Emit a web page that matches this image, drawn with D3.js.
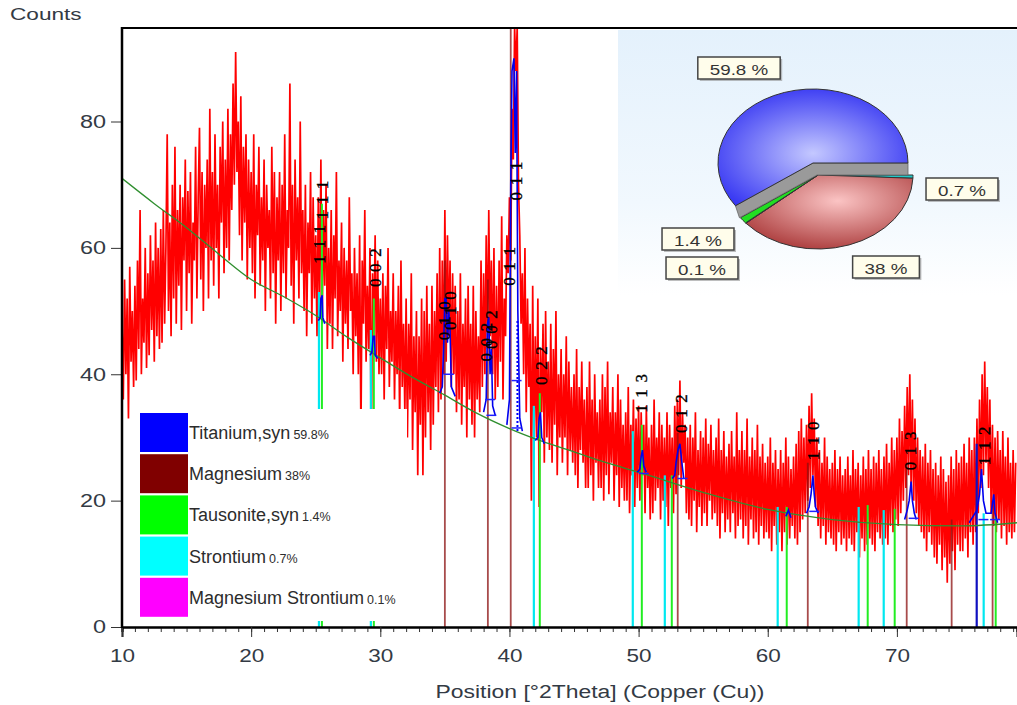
<!DOCTYPE html>
<html><head><meta charset="utf-8">
<script src="https://cdn.jsdelivr.net/npm/d3@7"></script>
<style>body{margin:0;background:#fff;} text{font-family:Arial,"Liberation Sans",sans-serif;}</style>
</head><body><svg id="c" width="1017" height="705"></svg>
<script>
// ---------- DATA ----------
const xStart = 10.0, xStep = 0.1;
const counts = [
48,36,55,40,52,33,57,42,50,38,
54,39,58,44,66,40,52,45,60,41,
56,43,62,47,58,42,64,46,60,44,
63,45,66,48,60,78,50,64,46,70,
52,76,48,66,54,70,47,68,58,74,
50,69,56,72,48,64,58,76,52,68,
79,55,72,50,70,60,74,52,82,58,
72,54,78,60,70,52,76,64,80,56,
74,60,82,58,78,66,86,70,91,72,
80,62,84,58,76,64,78,55,74,60,
72,56,78,52,70,62,76,54,68,58,
74,50,70,60,66,52,76,56,72,48,
68,58,72,50,70,56,78,52,66,60,
86,54,70,48,74,58,68,52,80,56,
66,50,70,46,64,56,72,48,68,52,
62,46,68,50,74,48,66,54,70,44,
60,48,66,44,62,52,72,46,58,50,
64,42,60,48,58,44,68,50,56,40,
60,46,56,40,62,30,58,48,66,42,
54,44,60,26,56,46,62,42,58,40,
52,40,56,36,54,44,60,38,50,42,
56,36,50,40,54,32,58,38,48,34,
52,30,48,36,56,28,46,34,50,24,
46,32,52,24,50,30,54,34,48,28,
54,32,50,38,56,34,60,36,58,40,
66,42,62,46,58,38,56,40,54,34,
50,36,56,32,48,38,52,30,54,36,
48,32,54,30,50,36,46,34,58,38,
56,40,62,44,66,46,58,40,60,36,
54,38,58,42,65,36,52,46,62,56,
68,58,82,74,95,88,95,70,62,48,
56,40,60,34,52,38,48,20,54,28,
46,30,52,19,44,34,48,26,50,30,
42,28,48,26,44,32,50,24,40,30,
44,26,40,30,46,24,42,28,38,26,
40,24,44,22,38,28,42,26,36,22,
38,22,42,24,36,20,40,26,34,22,
36,22,40,20,38,24,42,21,34,26,
38,20,34,24,40,19,36,22,32,20,
34,20,38,18,32,24,36,19,33,22,
35,20,34,24,32,18,35,22,30,17,
32,18,36,20,30,22,34,17,32,20,
30,19,34,16,32,22,30,18,35,21,
36,24,39,22,34,26,32,18,30,17,
32,16,30,20,34,15,28,19,31,16,
30,18,33,16,29,20,32,17,28,18,
30,16,33,14,28,18,31,15,27,17,
29,15,31,18,27,14,34,16,28,17,
31,14,28,16,33,13,27,17,30,14,
28,15,32,13,27,16,29,14,26,15,
27,14,30,12,26,16,28,13,25,15,
28,12,26,15,30,13,27,14,25,16,
27,14,29,13,31,15,33,17,30,18,
32,20,35,22,37,24,33,19,30,16,
28,14,26,16,30,13,27,15,25,14,
26,13,28,12,25,15,27,13,24,14,
25,12,27,14,24,13,28,12,25,15,
26,11,24,14,27,12,25,13,28,14,
25,13,27,12,26,15,28,14,25,13,
27,14,29,13,26,16,30,15,28,17,
30,16,33,18,31,20,35,22,38,24,
40,22,36,20,33,18,30,16,28,15,
27,14,29,12,26,15,28,13,25,11,
26,10,24,13,27,9,25,11,23,7,
24,10,27,12,25,9,28,13,26,12,
27,12,29,14,26,11,30,15,28,13,
30,15,33,18,36,22,40,24,42,26,
38,22,36,18,32,16,30,15,31,17,
28,14,31,16,27,13,30,15,26,14,
28,15,26
];

const bgPos    = [10,12.5,15,17.5,20,22.5,25,27.5,30,32.5,35,37.5,40,42.5,45,47.5,50,55,60,65,70,75,79.3];
const bgCounts = [71,67,63.2,59,55,52.3,49.3,45.8,42.6,39.5,36.7,33.8,31.4,29.4,27.7,26,24.5,21.3,18.6,17,16.2,16,16.5];

// reference stick patterns
const srPos  = [25.25,29.27,41.89,49.55,52.03,60.77,67.04,68.98,76.72];
const srH    = [53,47,35,31,24,19,19,18.5,18];
const tauPos = [25.48,29.50,42.35,50.25,52.57,61.47,67.74,69.83,77.65];
const tauH   = [67,52,37,32,24,19,19.3,18.7,17.5];
const mgPos  = [35.0,38.33,40.1,53.03,63.1,70.76,74.24,77.41];
const mgH    = [58,55,95,30.7,26,26,17,20];
const tiPos  = [76.18];
const tiH    = [29];

// calculated Titanium profile pieces [2theta, counts]
const tiProfile = [
 [[25.2,48.5],[25.35,49],[25.4,52],[25.5,52.5],[25.55,49],[25.7,48]],
 [[29.2,43],[29.35,43.5],[29.45,46],[29.55,46],[29.6,43],[29.8,42.5]],
 [[34.6,37],[34.8,38],[34.9,44],[35.0,52],[35.1,52],[35.2,45],[35.3,50],[35.4,47],[35.5,38],[35.8,36.5]],
 [[38.0,34],[38.2,36],[38.3,48],[38.4,49],[38.5,40],[38.6,44],[38.7,35],[38.9,33.5]],
 [[39.8,32],[40.0,36],[40.1,70],[40.2,88],[40.35,90],[40.45,75],[40.55,88],[40.65,50],[40.8,33],[41.0,31]],
 [[42.0,29.5],[42.2,30],[42.3,33],[42.4,34],[42.5,30],[42.7,29]],
 [[49.9,24.5],[50.1,25],[50.2,27],[50.3,28],[50.4,25.5],[50.6,24.5]],
 [[52.6,23.5],[52.8,24],[52.9,26],[53.05,28],[53.2,29],[53.35,26],[53.5,23.5]],
 [[61.4,17.5],[61.6,18.5],[61.8,17.3]],
 [[63.0,18],[63.2,19],[63.35,21],[63.5,24],[63.6,21],[63.7,19],[63.9,18]],
 [[70.6,17],[70.8,18.5],[70.95,20],[71.1,23],[71.2,20],[71.35,18],[71.5,17]],
 [[75.6,16.5],[75.9,17.5],[76.2,18.5],[76.4,21],[76.55,25],[76.7,20],[76.9,18],[77.3,18],[77.5,21],[77.6,18],[77.8,16.5]]
];
const tiMarks = [[35.3,40],[38.5,36],[38.6,33.5],[40.55,39],[40.55,31.5],[50.4,24.3],[53.4,23.5],[63.6,18.3],[71.3,17.2],[76.7,17],[77.6,17]];

// hkl labels
const hklText = ["1 1 1","1 1 1","0 0 2","0 1 0","0 1 0","0 0 2","0 0 2","0 1 1","0 1 1","0 2 2","1 1 3","0 1 2","1 1 0","0 1 3","1 1 2"];
const hklPos  = [25.3,25.55,29.65,34.95,35.4,38.2,38.6,40.0,40.55,42.45,50.25,53.3,63.55,71.05,76.75];
const hklBase = [57.5,64.5,53.8,45.4,47,42,44,54,67.5,38.3,33.9,30.7,26.4,24.8,25.6];

// legend / phases
const phaseNames = ["Titanium,syn","Magnesium","Tausonite,syn","Strontium","Magnesium Strontium"];
const phasePct   = ["59.8%","38%","1.4%","0.7%","0.1%"];

// pie (clockwise from 3 o'clock)
const pieNames  = ["Strontium","Magnesium","Magnesium Strontium","Tausonite,syn","Titanium,syn"];
const pieValues = [0.7,38,0.1,1.4,59.8];
const pieLabels = ["0.7 %","38 %","0.1 %","1.4 %","59.8 %"];

const xTicks = [10,20,30,40,50,60,70];
const yTicks = [0,20,40,60,80];

// ---------- DRAW ----------
const svg = d3.select("#c");
const x = d3.scaleLinear().domain([10,79.3]).range([122,1017]);
const y = d3.scaleLinear().domain([0,94.8]).range([627,28]);
const defs = svg.append("defs");
defs.append("clipPath").attr("id","plot").append("rect")
  .attr("x",122).attr("y",28).attr("width",895).attr("height",599);

function stretch(sel, f){
  sel.each(function(){
    const L = this.getComputedTextLength();
    d3.select(this).attr("textLength", L*f).attr("lengthAdjust","spacingAndGlyphs");
  });
}

const pg = defs.append("linearGradient").attr("id","panel").attr("x1",0).attr("y1",0).attr("x2",0).attr("y2",1);
pg.append("stop").attr("offset",0).attr("stop-color","#e4f1fc");
pg.append("stop").attr("offset",0.65).attr("stop-color","#f1f8fe");
pg.append("stop").attr("offset",1).attr("stop-color","#ffffff");
svg.append("rect").attr("x",618).attr("y",30).attr("width",399).attr("height",265).attr("fill","url(#panel)");

const plot = svg.append("g").attr("clip-path","url(#plot)");

// measured pattern
plot.append("path").datum(counts)
  .attr("d", d3.line().x((d,i)=>x(xStart+i*xStep)).y(d=>y(d)))
  .attr("fill","none").attr("stroke","#ff0000").attr("stroke-width",1.7).attr("stroke-linejoin","bevel");

// sticks
function sticks(pos,h,color,w,op){
  plot.append("g").selectAll("line").data(pos).join("line")
    .attr("x1",d=>x(d)).attr("x2",d=>x(d))
    .attr("y1",y(0)).attr("y2",(d,i)=>y(h[i]))
    .attr("stroke",color).attr("stroke-width",w).attr("opacity",op);
}
sticks(mgPos,mgH,"#8b1010",1.8,0.75);
sticks(srPos,srH,"#00e8f0",2.2,1);
sticks(tauPos,tauH,"#22ee22",2,1);
sticks(tiPos,tiH,"#1010c0",2.2,1);

// background curve
plot.append("path").datum(bgPos.map((p,i)=>[p,bgCounts[i]]))
  .attr("d", d3.line().curve(d3.curveMonotoneX).x(d=>x(d[0])).y(d=>y(d[1])))
  .attr("fill","none").attr("stroke","#2f8f2f").attr("stroke-width",1.3);

// calculated Ti profile
plot.append("g").selectAll("path").data(tiProfile).join("path")
  .attr("d", d3.line().x(d=>x(d[0])).y(d=>y(d[1])))
  .attr("fill","none").attr("stroke","#0000ee").attr("stroke-width",1.6);
plot.append("g").selectAll("line").data(tiMarks).join("line")
  .attr("x1",d=>x(d[0])-5).attr("x2",d=>x(d[0])+5)
  .attr("y1",d=>y(d[1])).attr("y2",d=>y(d[1]))
  .attr("stroke","#2020ff").attr("stroke-width",1.5);
plot.append("line").attr("x1",x(40.62)).attr("x2",x(40.62)).attr("y1",y(31)).attr("y2",y(48.6))
  .attr("stroke","#0000ff").attr("stroke-width",2).attr("stroke-dasharray","2,2");

// hkl labels
svg.append("g").selectAll("text").data(hklText).join("text")
  .attr("transform",(d,i)=>`translate(${x(hklPos[i])},${y(hklBase[i])}) rotate(-90)`)
  .attr("dominant-baseline","central")
  .style("font-family","'Liberation Serif','DejaVu Serif',serif")
  .style("font-size","17px").style("letter-spacing","1.2px")
  .attr("fill","#000").attr("stroke","#000").attr("stroke-width",0.35).text(d=>d);

// legend
const legColors = ["#0000ff","#800000","#00ff00","#00ffff","#ff00ff"];
svg.append("rect").attr("x",133).attr("y",409).attr("width",274).attr("height",212).attr("fill","#fff");
const lg = svg.append("g").selectAll("g").data(phaseNames).join("g")
  .attr("transform",(d,i)=>`translate(140,${413+i*41.2})`);
lg.append("rect").attr("width",48).attr("height",39).attr("fill",(d,i)=>legColors[i]);
const lt = lg.append("text").attr("x",49).attr("y",26).attr("fill","#2c2c2c");
lt.append("tspan").style("font-size","18px").text(d=>d);
lt.append("tspan").style("font-size","12.5px").attr("dx",3).text((d,i)=>phasePct[i]);

// pie
const rx = 95, ry = 74;
const pieColors = ["#20c8c8","url(#gRed)","#ff00ff","#22dd22","url(#gBlue)"];
const gb = defs.append("radialGradient").attr("id","gBlue").attr("cx","0.5").attr("cy","0.55").attr("r","0.6");
gb.append("stop").attr("offset",0).attr("stop-color","#c4c8ff");
gb.append("stop").attr("offset",1).attr("stop-color","#3434f2");
const gr = defs.append("radialGradient").attr("id","gRed").attr("cx","0.55").attr("cy","0.35").attr("r","0.65");
gr.append("stop").attr("offset",0).attr("stop-color","#fbc4c4");
gr.append("stop").attr("offset",1).attr("stop-color","#b04444");
const arcs = d3.pie().sort(null).startAngle(Math.PI/2).endAngle(Math.PI/2+2*Math.PI)(pieValues);
const arcGen = d3.arc().innerRadius(0).outerRadius(rx);
const lowC = [818,175], blueC = [813,163];
const lowG = svg.append("g").attr("transform",`translate(${lowC[0]},${lowC[1]}) scale(1,${ry/rx})`);
lowG.selectAll("path").data(arcs.slice(0,4)).join("path")
  .attr("d",arcGen).attr("fill",(d,i)=>pieColors[i])
  .attr("stroke","#333").attr("stroke-width",1).attr("vector-effect","non-scaling-stroke");
// side wall of the exploded blue slice
const bArc = arcs[4];
const aS = bArc.startAngle - Math.PI/2;
const Lp = [blueC[0]+rx*Math.cos(aS), blueC[1]+ry*Math.sin(aS)];
const Rp = [blueC[0]+rx, blueC[1]];
const hW = 12;
svg.append("path")
  .attr("d",`M${Lp[0]},${Lp[1]} L${blueC[0]},${blueC[1]} L${Rp[0]},${Rp[1]} L${Rp[0]},${Rp[1]+hW} L${blueC[0]+4},${blueC[1]+hW} L${Lp[0]+4},${Lp[1]+hW} Z`)
  .attr("fill","#9a9a9a").attr("stroke","#666").attr("stroke-width",0.8);
svg.append("g").attr("transform",`translate(${blueC[0]},${blueC[1]}) scale(1,${ry/rx})`)
  .append("path").datum(bArc).attr("d",arcGen).attr("fill",pieColors[4])
  .attr("stroke","#333").attr("stroke-width",1).attr("vector-effect","non-scaling-stroke");

// pie labels
const pieLabelPos = [[962,189],[886,267],[702,268],[698,239],[739,68]];
pieLabels.forEach((t,i)=>{
  const [cx,cy] = pieLabelPos[i];
  const g = svg.append("g");
  const tx = g.append("text").attr("x",cx).attr("y",cy+1).attr("text-anchor","middle").attr("dominant-baseline","central")
    .style("font-size","15px").attr("fill","#333").text(t);
  const tl = tx.node().getComputedTextLength()*1.25;
  tx.attr("textLength",tl).attr("lengthAdjust","spacingAndGlyphs");
  const w = tl+24, h = 22;
  g.insert("rect","text").attr("x",cx-w/2+2).attr("y",cy-h/2+2).attr("width",w).attr("height",h).attr("fill","#888").attr("opacity",0.55);
  g.insert("rect","text").attr("x",cx-w/2).attr("y",cy-h/2).attr("width",w).attr("height",h)
    .attr("fill","#fffdeb").attr("stroke","#444").attr("stroke-width",1.5);
});

// axes
const xAxis = svg.append("g").attr("transform","translate(0,627)");
xAxis.call(d3.axisBottom(x).tickValues(d3.range(10,80,1)).tickSize(5).tickFormat(""));
xAxis.append("g").call(d3.axisBottom(x).tickValues(xTicks).tickSize(10).tickPadding(12));
xAxis.selectAll("path.domain").attr("stroke","#000").attr("stroke-width",2);
xAxis.selectAll("line").attr("stroke","#333");
xAxis.selectAll("text").style("font-size","18px").attr("fill","#333a44").style("font-family","Arial");
stretch(xAxis.selectAll("text"),1.25);

const yAxis = svg.append("g").attr("transform","translate(122,0)");
yAxis.call(d3.axisLeft(y).tickValues(yTicks).tickSize(11).tickPadding(5));
yAxis.select("path.domain").remove();
yAxis.selectAll("line").attr("stroke","#333");
yAxis.selectAll("text").style("font-size","18px").attr("fill","#333a44").style("font-family","Arial");
stretch(yAxis.selectAll("text"),1.3);

svg.append("line").attr("x1",122).attr("x2",122).attr("y1",27).attr("y2",628).attr("stroke","#000").attr("stroke-width",2.5);
svg.append("line").attr("x1",121).attr("x2",1017).attr("y1",28).attr("y2",28).attr("stroke","#000").attr("stroke-width",2);

const ct = svg.append("text").attr("x",10).attr("y",20).style("font-size","17px").attr("fill","#333a44").text("Counts");
stretch(ct,1.33);
const xt = svg.append("text").attr("x",600).attr("y",698).attr("text-anchor","middle").style("font-size","18px").attr("fill","#333a44")
  .text("Position [°2Theta] (Copper (Cu))");
xt.attr("textLength",329).attr("lengthAdjust","spacingAndGlyphs");
</script></body></html>
